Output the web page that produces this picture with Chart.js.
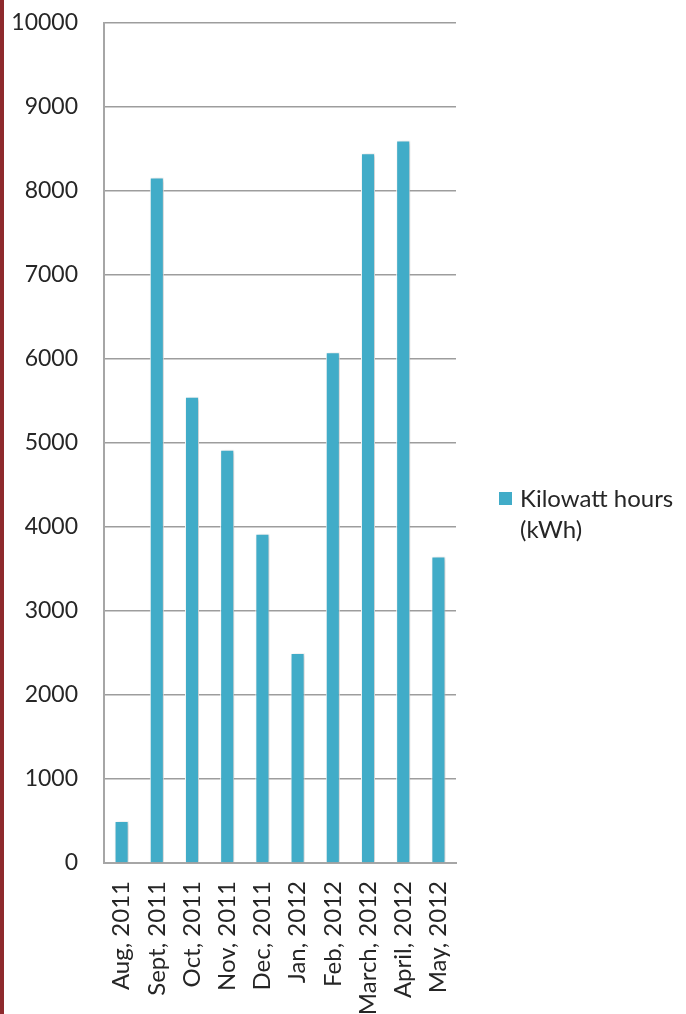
<!DOCTYPE html>
<html>
<head>
<meta charset="utf-8">
<script src="https://cdn.jsdelivr.net/npm/chart.js@4.4.1/dist/chart.umd.min.js"></script>
<style>
  html, body { margin: 0; padding: 0; background: #fff; }
  #wrap { position: relative; width: 686px; height: 1014px; overflow: hidden; }
  #edge { position: absolute; left: 0; top: 0; width: 4px; height: 1014px; background: #8e2a2d; }
  #legend {
    position: absolute; left: 499px; top: 482px;
    font-family: Lato, "Open Sans", sans-serif; font-size: 24px; line-height: 31px; color: #262626;
  }
  #legend .sw { display: inline-block; width: 13px; height: 13px; background: #41acc8; margin-right: 8px; vertical-align: 2px; }
  #legend .l2 { padding-left: 21px; }
</style>
</head>
<body>
<div id="wrap">
  <canvas id="c" width="686" height="1014"></canvas>
  <div id="edge"></div>
  <div id="legend">
    <div><span class="sw"></span>Kilowatt hours</div>
    <div class="l2">(kWh)</div>
  </div>
</div>
<script>
const months = ["Aug, 2011", "Sept, 2011", "Oct, 2011", "Nov, 2011", "Dec, 2011",
  "Jan, 2012", "Feb, 2012", "March, 2012", "April, 2012", "May, 2012"];
const kwh = [500, 8160, 5550, 4920, 3920, 2500, 6080, 8450, 8600, 3650];
const seriesName = "Kilowatt hours (kWh)";

const barShadow = {
  id: "barShadow",
  beforeDatasetsDraw(chart) {
    const ctx = chart.ctx;
    ctx.save();
    ctx.shadowColor = "rgba(0,0,0,0.22)";
    ctx.shadowBlur = 4;
    ctx.shadowOffsetX = 2;
    ctx.shadowOffsetY = 1;
  },
  afterDatasetsDraw(chart) {
    chart.ctx.restore();
  }
};

const ctx = document.getElementById("c").getContext("2d");
new Chart(ctx, {
  type: "bar",
  data: {
    labels: months,
    datasets: [{
      label: seriesName,
      data: kwh,
      backgroundColor: "#41acc8",
      borderColor: "#ffffff",
      borderWidth: 1,
      barPercentage: 0.4,
      categoryPercentage: 1
    }]
  },
  options: {
    responsive: false,
    animation: false,
    layout: { padding: { top: 23, right: 230, bottom: 0, left: 0 } },
    plugins: { legend: { display: false }, tooltip: { enabled: false } },
    scales: {
      x: {
        grid: { display: false, drawTicks: false },
        border: { display: true, color: "#a6a6a6", width: 2 },
        ticks: {
          maxRotation: 90, minRotation: 90, autoSkip: false, padding: 18,
          color: "#262626", font: { family: "Lato", size: 24 }
        },
        afterFit(scale) { scale.height = 151; }
      },
      y: {
        min: 0, max: 10000,
        ticks: {
          stepSize: 1000, padding: 26,
          color: "#262626", font: { family: "Lato", size: 23 },
          callback: (v) => String(v)
        },
        grid: { color: "#9d9d9d", lineWidth: 1.5, drawTicks: false },
        border: { display: true, color: "#a6a6a6", width: 2 },
        afterFit(scale) {
          scale.width = 104;
          scale.paddingTop = 0;
          scale.paddingBottom = 0;
        }
      }
    }
  },
  plugins: [barShadow]
});
</script>
</body>
</html>
